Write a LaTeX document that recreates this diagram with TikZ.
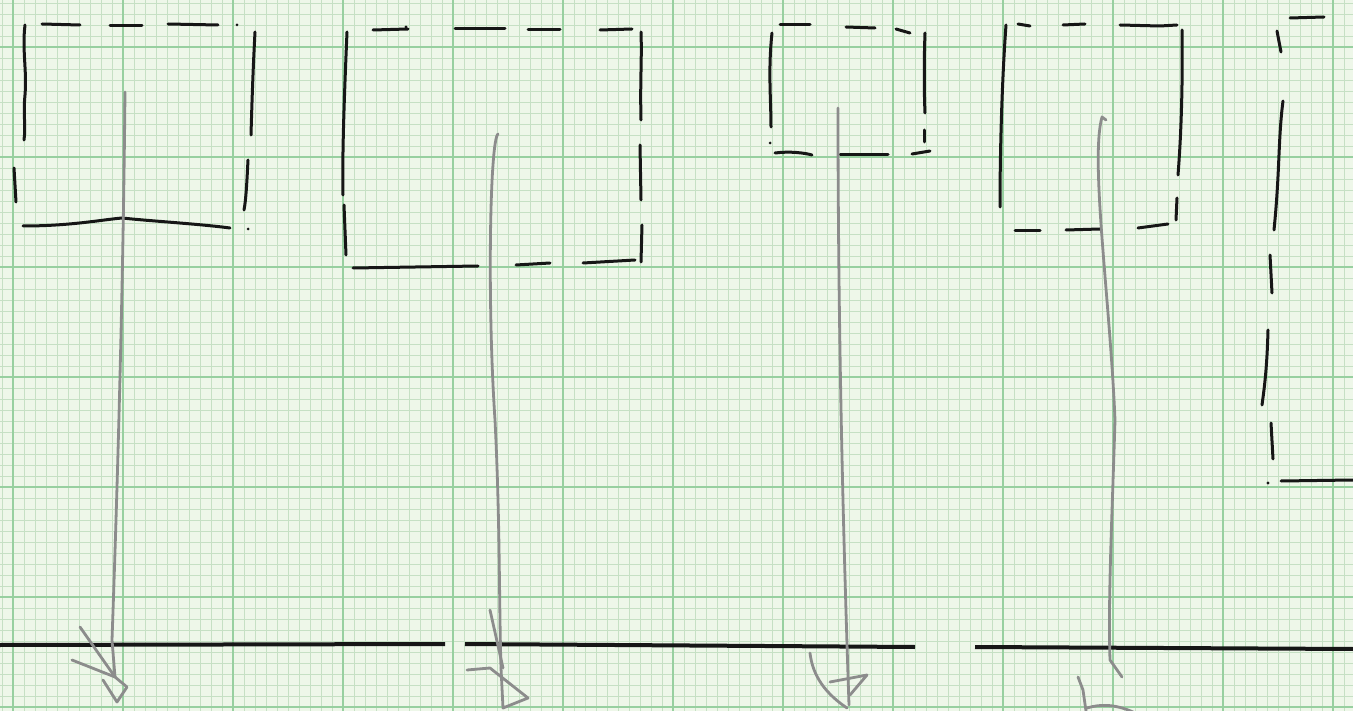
\documentclass[tikz,border=0pt]{standalone}
\usetikzlibrary{calc}
\definecolor{paper}{RGB}{238,247,233}
\definecolor{minorg}{RGB}{198,224,196}
\definecolor{majorg}{RGB}{152,208,160}
\definecolor{pen}{RGB}{22,22,22}
\definecolor{pencil}{RGB}{140,140,140}
\tikzset{
  ink/.style={draw=pen,line width=3pt,line cap=round},
  pencilline/.style={draw=pencil,line width=2.8pt,line cap=round,line join=round},
  baseline/.style={draw=pen,line width=4pt},
}
\begin{document}
\begin{tikzpicture}[x=1pt,y=-1pt]
\useasboundingbox (0,0) rectangle (1353,711);
\fill[paper] (0,0) rectangle (1353,711);
% grid
\foreach \i in {0,...,122} {\draw[minorg,line width=0.7pt] ({2+11*\i},0) -- ({2+11*\i},711);}
\foreach \i in {0,...,64} {\draw[minorg,line width=0.7pt] (0,{3+11*\i}) -- (1353,{3+11*\i});}
\foreach \i in {0,...,12} {\draw[majorg,line width=1.6pt] ({13+110*\i},0) -- ({13+110*\i},711);}
\foreach \i in {0,...,6} {\draw[majorg,line width=1.6pt] (0,{47+110*\i}) -- (1353,{47+110*\i});}

% baseline
\coordinate (b0) at (0,645);
\coordinate (b1) at (445,644);
\coordinate (b2) at (465,644);
\coordinate (b3) at (915,647);
\coordinate (b4) at (975,647);
\coordinate (b5) at (1353,649);
\draw[baseline] (b0) -- (b1);
\draw[baseline] (b2) -- (b3);
\draw[baseline] (b4) -- (b5);

% box 1
\draw[ink] (42,24) -- (80,25);
\draw[ink] (110,26) -- (142,26);
\draw[ink] (168,24) -- (218,25);
\fill[pen] (237,25) circle (1.5);
\draw[ink] (25,25) .. controls (22,50) and (27,70) .. (25,95) .. controls (23,115) and (26,125) .. (24,140);
\draw[ink] (14,168) -- (16,202);
\draw[ink] (255,32) .. controls (253,70) and (252,100) .. (251,135);
\draw[ink] (248,160) .. controls (247,180) and (246,200) .. (244,210);
\draw[ink] (23,226) .. controls (70,226) and (100,220) .. (122,218) .. controls (150,221) and (200,224) .. (230,228);
\fill[pen] (248,229) circle (1.5);

% box 2
\draw[ink] (347,32) .. controls (345,80) and (342,150) .. (343,195);
\draw[ink] (344,205) -- (346,255);
\draw[ink] (373,30) -- (408,29);
\fill[pen] (406,27) circle (1.6);
\draw[ink] (455,29) -- (505,29);
\draw[ink] (528,30) -- (560,30);
\draw[ink] (600,30) -- (632,29);
\draw[ink] (641,32) .. controls (642,60) and (640,80) .. (641,120);
\draw[ink] (640,145) -- (641,200);
\draw[ink] (642,225) -- (641,262);
\draw[ink] (353,268) -- (478,266);
\draw[ink] (516,265) -- (550,263);
\draw[ink] (583,263) -- (635,260);

% box 3
\draw[ink] (772,33) .. controls (768,70) and (771,100) .. (771,127);
\fill[pen] (770,143) circle (1.5);
\draw[ink] (780,25) -- (810,25);
\draw[ink] (846,27) -- (875,28);
\draw[ink] (896,29) -- (910,33);
\draw[ink] (925,33) .. controls (924,60) and (924,90) .. (925,113);
\draw[ink] (924,130) -- (924,142);
\draw[ink] (775,153) .. controls (790,151) and (805,153) .. (812,155);
\draw[ink] (840,155) -- (888,155);
\draw[ink] (912,154) -- (930,151);

% box 4
\draw[ink] (1006,25) .. controls (1002,80) and (1000,150) .. (1000,207);
\draw[ink] (1018,24) -- (1030,26);
\draw[ink] (1063,25) -- (1085,24);
\draw[ink] (1120,25) -- (1160,26) -- (1177,25);
\draw[ink] (1182,30) .. controls (1183,100) and (1180,150) .. (1178,175);
\draw[ink] (1177,198) -- (1176,220);
\draw[ink] (1015,231) -- (1040,231);
\draw[ink] (1066,230) -- (1100,229);
\draw[ink] (1138,228) -- (1168,224);

% box 5 (partial)
\draw[ink] (1290,18) -- (1324,17);
\draw[ink] (1277,31) -- (1281,52);
\draw[ink] (1283,101) .. controls (1278,140) and (1280,170) .. (1274,230);
\draw[ink] (1270,255) -- (1272,293);
\draw[ink] (1268,330) .. controls (1267,370) and (1264,390) .. (1262,405);
\draw[ink] (1271,423) -- (1273,459);
\fill[pen] (1268,483) circle (1.6);
\draw[ink] (1281,481) -- (1353,480);

% arrow 1
\coordinate (a1s) at (125,92);
\coordinate (a1e) at (115,677);
\draw[pencilline] (a1s) .. controls (123,300) and (117,500) .. (112,640) -- (a1e);
\draw[pencilline] (80,627) -- (a1e);
\draw[pencilline] (72,660) -- (a1e) -- (127,687) -- (117,702) -- (103,680);

% arrow 2
\coordinate (a2s) at (498,134);
\coordinate (a2e) at (503,668);
\draw[pencilline] (a2s) .. controls (490,140) and (487,300) .. (495,420) .. controls (500,520) and (499,600) .. (501,668);
\draw[pencilline] (490,610) -- (a2e);
\draw[pencilline] (467,670) -- (490,668) -- (528,698) -- (503,708) -- (501,668);

% arrow 3
\coordinate (a3s) at (838,108);
\coordinate (a3e) at (849,705);
\draw[pencilline] (a3s) .. controls (838,300) and (842,500) .. (a3e);
\draw[pencilline] (810,653) .. controls (812,670) and (820,690) .. (847,708);
\draw[pencilline] (830,682) -- (867,675) -- (850,695);

% arrow 4
\coordinate (a4s) at (1102,117);
\coordinate (a4e) at (1122,677);
\draw[pencilline] (1106,120) -- (a4s) .. controls (1090,160) and (1110,300) .. (1115,420) .. controls (1112,520) and (1108,600) .. (1110,660) -- (a4e);
\draw[pencilline] (1078,677) -- (1083,690) -- (1086,711);
\draw[pencilline] (1087,708) .. controls (1100,704) and (1115,704) .. (1133,712);
\end{tikzpicture}
\end{document}
